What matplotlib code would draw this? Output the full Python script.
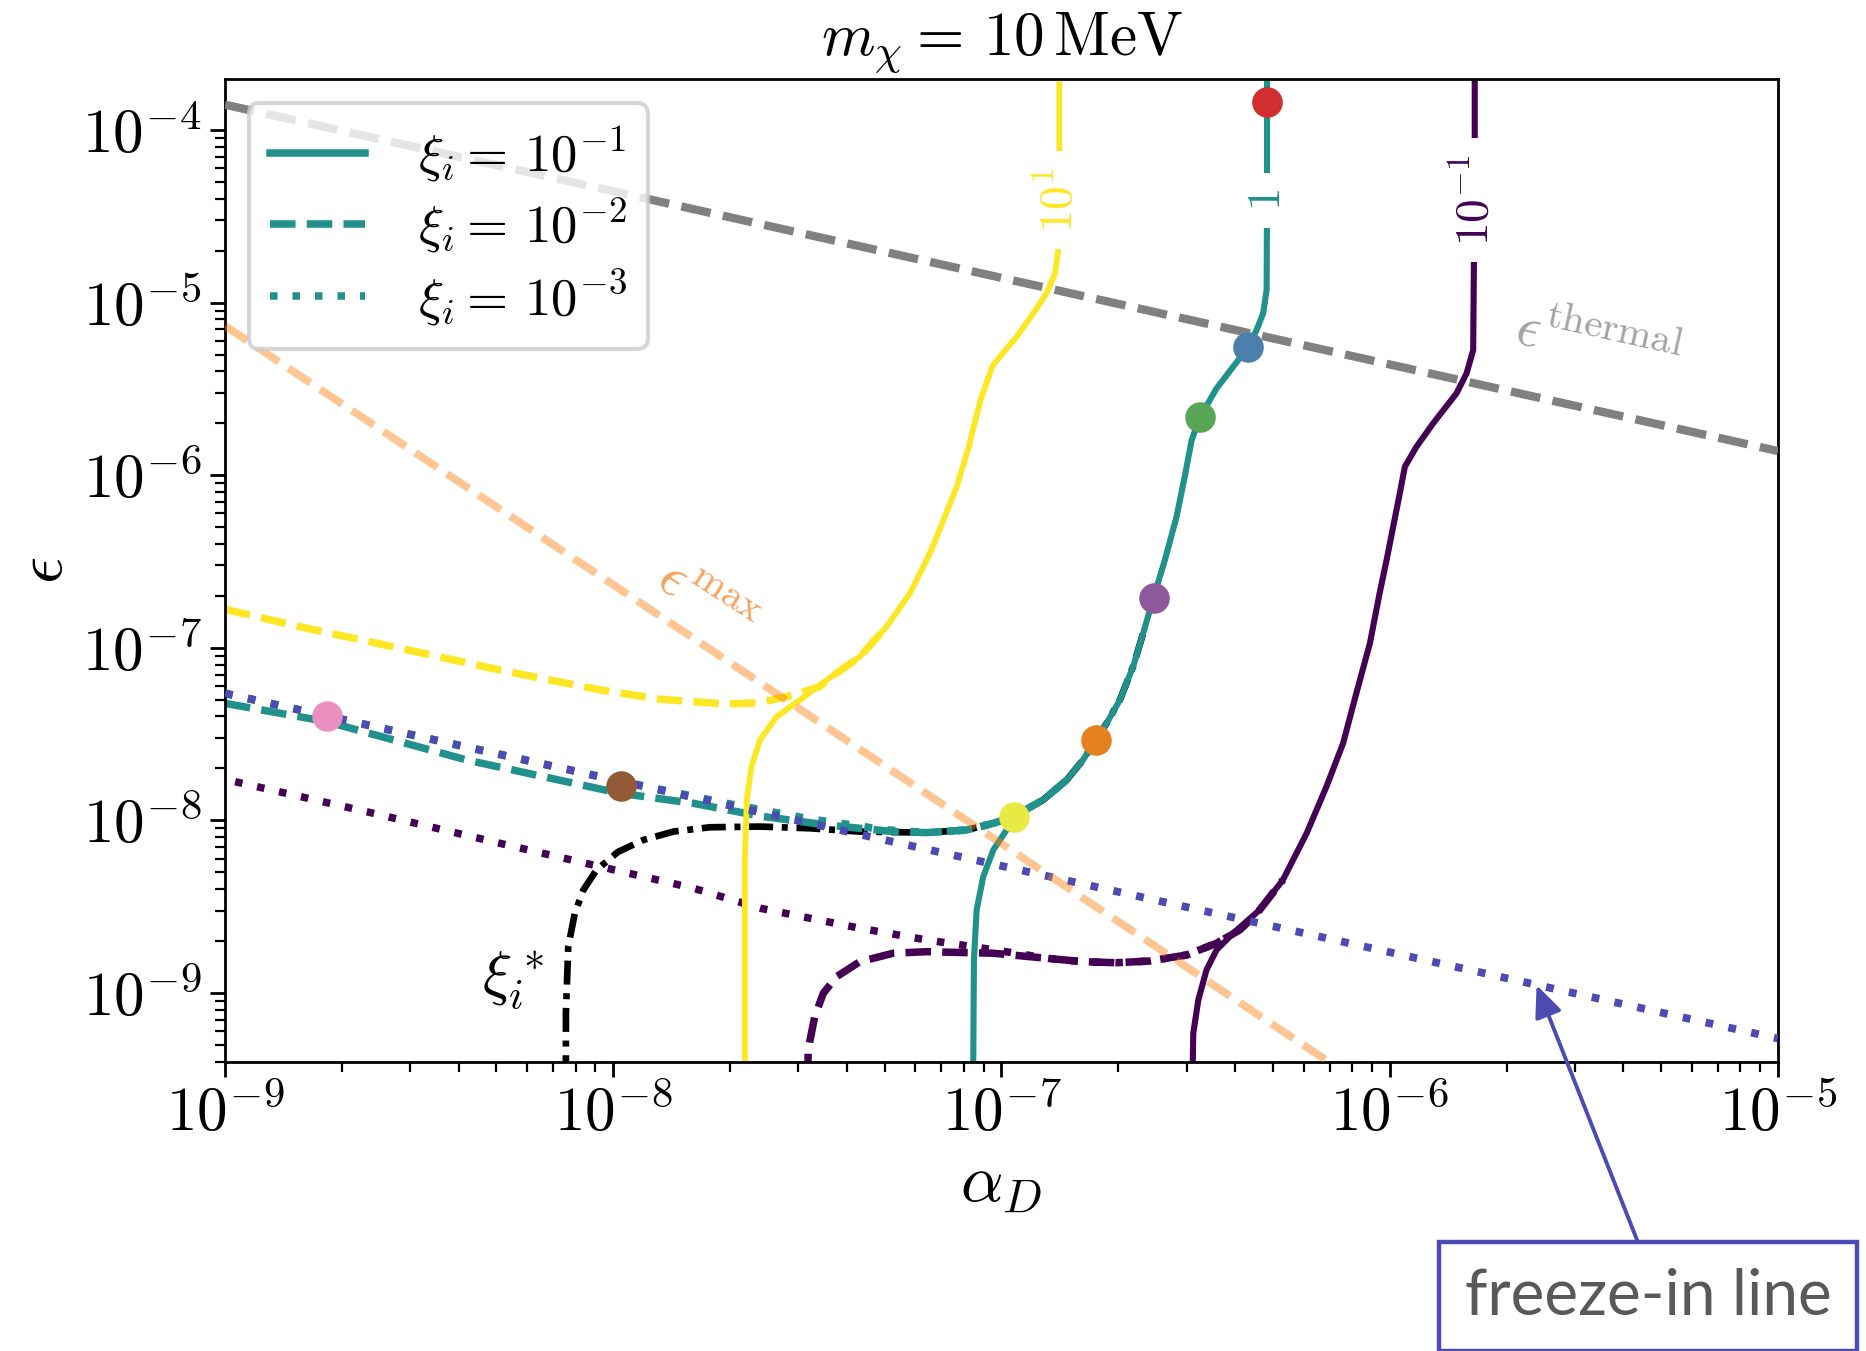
import numpy as np
import matplotlib
matplotlib.use('Agg')
import matplotlib.pyplot as plt
from matplotlib import ticker
from matplotlib.lines import Line2D

plt.rcParams['mathtext.fontset'] = 'cm'

# all values below are log10(alpha_D) / log10(epsilon)

# contour value 10 (yellow)
yel_solid_la = [-7.661, -7.661, -7.661, -7.656, -7.644, -7.622, -7.579, -7.519, -7.450, -7.365,
                -7.296, -7.236, -7.193, -7.177, -7.146, -7.115, -7.085, -7.054, -7.023, -7.004,
                -6.961, -6.918, -6.884, -6.862, -6.854, -6.851, -6.851]
yel_solid_le = [-9.5, -8.809, -8.229, -7.882, -7.689, -7.534, -7.399, -7.302, -7.187, -7.052,
                -6.878, -6.684, -6.491, -6.414, -6.240, -6.065, -5.841, -5.564, -5.367, -5.313,
                -5.198, -5.062, -4.946, -4.830, -4.695, -4.116, -3.6]
yel_dash_la = [-9.0, -8.807, -8.549, -8.292, -8.034, -7.880, -7.708, -7.622, -7.536, -7.468,
               -7.450, -7.365, -7.296]
yel_dash_le = [-6.777, -6.878, -7.003, -7.129, -7.244, -7.298, -7.326, -7.318, -7.273, -7.225,
               -7.187, -7.052, -6.878]

# contour value 1 (teal)
teal_solid_la = [-7.073, -7.071, -7.064, -7.047, -7.021, -6.987, -6.970, -6.893, -6.832, -6.790,
                 -6.757, -6.729, -6.695, -6.661, -6.635, -6.609, -6.579, -6.549, -6.528, -6.510,
                 -6.489, -6.446, -6.403, -6.365, -6.343, -6.326, -6.317, -6.316, -6.316]
teal_solid_le = [-9.5, -8.809, -8.519, -8.326, -8.171, -8.056, -7.979, -7.882, -7.766, -7.650,
                 -7.534, -7.437, -7.302, -7.109, -6.916, -6.713, -6.491, -6.240, -6.009, -5.796,
                 -5.665, -5.497, -5.371, -5.259, -5.159, -5.062, -4.927, -4.4, -3.6]
teal_dash_la = [-9.0, -8.738, -8.378, -7.983, -7.794, -7.622, -7.450, -7.279, -7.193, -7.090,
                -7.021, -6.970, -6.893, -6.832]
teal_dash_le = [-7.322, -7.428, -7.650, -7.843, -7.901, -7.975, -8.027, -8.065, -8.071, -8.056,
                -8.017, -7.979, -7.882, -7.766]
teal_dot_la = [-9.0, -8.5, -8.0, -7.7, -7.5, -7.3, -7.193, -7.090, -7.021, -6.970]
teal_dot_le = [-7.264, -7.514, -7.764, -7.905, -7.99, -8.055, -8.071, -8.056, -8.017, -7.979]

# contour value 0.1 (dark purple)
pur_solid_la = [-6.508, -6.506, -6.493, -6.472, -6.446, -6.403, -6.335, -6.275, -6.214, -6.163,
                -6.120, -6.086, -6.051, -6.026, -6.008, -5.991, -5.974, -5.961, -5.931, -5.888,
                -5.828, -5.802, -5.785, -5.783, -5.781, -5.781]
pur_solid_le = [-9.5, -9.234, -9.041, -8.867, -8.751, -8.654, -8.519, -8.345, -8.075, -7.805,
                -7.553, -7.264, -6.974, -6.684, -6.491, -6.298, -6.105, -5.951, -5.835, -5.699,
                -5.526, -5.410, -5.275, -4.753, -4.039, -3.6]
pur_dash_la = [-7.499, -7.498, -7.493, -7.481, -7.459, -7.425, -7.365, -7.279, -7.193, -7.021,
               -6.875, -6.790, -6.704, -6.618, -6.523, -6.446, -6.386, -6.335, -6.275]
pur_dash_le = [-9.5, -9.348, -9.272, -9.137, -9.002, -8.906, -8.819, -8.770, -8.761, -8.770,
               -8.801, -8.819, -8.825, -8.815, -8.780, -8.712, -8.635, -8.519, -8.345]
pur_dot_la = [-8.974, -8.635, -8.292, -8.034, -7.794, -7.622, -7.365, -7.193, -7.064, -6.935,
              -6.875, -6.790, -6.704, -6.618, -6.523, -6.446, -6.386, -6.335]
pur_dot_le = [-7.776, -7.950, -8.133, -8.268, -8.393, -8.509, -8.625, -8.693, -8.735, -8.780,
              -8.801, -8.819, -8.825, -8.815, -8.780, -8.712, -8.635, -8.519]

# xi_i^* line
star_la = [-8.122, -8.122, -8.116, -8.099, -8.077, -8.043, -7.988, -7.923, -7.845, -7.751,
           -7.622, -7.493, -7.365, -7.193, -7.090, -7.021, -6.970, -6.893, -6.832, -6.790,
           -6.757, -6.729, -6.695, -6.661, -6.635]
star_le = [-9.5, -9.118, -8.732, -8.538, -8.403, -8.287, -8.183, -8.114, -8.065, -8.040,
           -8.036, -8.046, -8.065, -8.071, -8.056, -8.017, -7.979, -7.882, -7.766, -7.650,
           -7.534, -7.437, -7.302, -7.109, -6.916]

# straight reference lines (end points)
thermal_la = [-9.0, -5.0]
thermal_le = [-3.853, -5.86]
eps_max_la = [-9.0, -5.0]
eps_max_le = [-5.135, -11.135]
freeze_la = [-9.0, -5.0]
freeze_le = [-7.264, -9.264]

# benchmark points
pts_la = [-6.316, -6.365, -6.489, -6.608, -6.757, -6.968, -7.980, -8.738]
pts_le = [-3.836, -5.259, -5.665, -6.710, -7.534, -7.979, -7.801, -7.395]
pts_colors = ['#d12e2f', '#4a7fae', '#59a556', '#8f599e', '#e67f1f', '#e8e943', '#935a37', '#ea8fc0']

contour_labels = [r'$10^{1}$', r'$1$', r'$10^{-1}$']
label_la = [-6.851, -6.316, -5.781]
label_le = [-4.406, -4.406, -4.406]

legend_labels = [r'$\xi_i = \,10^{-1}$', r'$\xi_i = \,10^{-2}$', r'$\xi_i = \,10^{-3}$']

c_yel = '#fde725'
c_teal = '#21918c'
c_pur = '#440154'
c_fi = '#4b4bb3'
dotted = (0, (1, 2.0))
dashed = (0, (3.4, 1.5))


def p(a):
    return 10 ** np.array(a)


fig = plt.figure(figsize=(9.33, 6.755), dpi=200)
ax = fig.add_axes([0.1206, 0.2142, 0.8322, 0.7271])

# reference lines
ax.plot(p(thermal_la), p(thermal_le), color='gray', lw=3.0, ls=(0, (3.6, 1.5)), zorder=3)
ax.plot(p(eps_max_la), p(eps_max_le), color='#ff7f0e', alpha=0.45, lw=2.8, ls=dashed, zorder=4)
ax.plot(p(freeze_la), p(freeze_le), color=c_fi, lw=2.8, ls=dotted, zorder=2.6)

# contours
ax.plot(p(star_la), p(star_le), color='k', lw=2.4, ls=(0, (3.6, 1.3, 0.9, 1.3)), zorder=2.2)
ax.plot(p(teal_dash_la), p(teal_dash_le), color=c_teal, lw=2.7, ls=dashed, zorder=2.3)
ax.plot(p(teal_dot_la), p(teal_dot_le), color=c_teal, lw=2.8, ls=dotted, zorder=2.5)
ax.plot(p(teal_solid_la), p(teal_solid_le), color=c_teal, lw=2.2, zorder=2.4)
ax.plot(p(yel_dash_la), p(yel_dash_le), color=c_yel, lw=2.7, ls=dashed, zorder=2.3)
ax.plot(p(yel_solid_la), p(yel_solid_le), color=c_yel, lw=2.1, zorder=2.4)
ax.plot(p(pur_dot_la), p(pur_dot_le), color=c_pur, lw=2.7, ls=dotted, zorder=2.3)
ax.plot(p(pur_dash_la), p(pur_dash_le), color=c_pur, lw=2.7, ls=dashed, zorder=2.3)
ax.plot(p(pur_solid_la), p(pur_solid_le), color=c_pur, lw=2.2, zorder=2.4)

for lab, la, le, c in zip(contour_labels, label_la, label_le, [c_yel, c_teal, c_pur]):
    ax.text(10 ** la, 10 ** le, lab, color=c, fontsize=17, rotation=90, ha='center', va='center',
            bbox=dict(boxstyle='square,pad=0.35', fc='white', ec='none'), zorder=2.45)

for la, le, c in zip(pts_la, pts_le, pts_colors):
    ax.plot(10 ** la, 10 ** le, 'o', color=c, ms=11, mec='none', zorder=6)

# text labels
ax.text(10 ** -7.761, 10 ** -6.723, r'$\epsilon^{\mathrm{max}}$', color='#f8a35e', fontsize=21,
        rotation=-33, ha='center', va='center', rotation_mode='anchor')
ax.text(10 ** -5.464, 10 ** -5.246, r'$\epsilon^{\mathrm{thermal}}$', color='#a3a3a3', fontsize=21,
        rotation=-12.5, ha='center', va='center', rotation_mode='anchor')
ax.text(10 ** -8.258, 10 ** -8.925, r'$\xi_i^*$', color='k', fontsize=22, ha='center', va='center')

handles = [Line2D([], [], color=c_teal, lw=2.7, ls=s) for s in ['-', dashed, dotted]]
leg = ax.legend(handles, legend_labels, loc='upper left', fontsize=19, framealpha=0.8,
                edgecolor='#cccccc', fancybox=True, labelspacing=0.22, handlelength=1.8,
                handletextpad=1.0, borderaxespad=0.45)
leg.get_frame().set_linewidth(1.5)

ax.set_xscale('log')
ax.set_yscale('log')
ax.set_xlim(1e-9, 1e-5)
ax.set_ylim(4e-10, 10 ** -3.706)

fmt = ticker.FuncFormatter(lambda v, pos: r'$10^{%d}$' % int(round(np.log10(v))))
ax.xaxis.set_major_formatter(fmt)
ax.yaxis.set_major_formatter(fmt)
ax.xaxis.set_minor_formatter(ticker.NullFormatter())
ax.yaxis.set_minor_formatter(ticker.NullFormatter())
ax.yaxis.set_major_locator(ticker.LogLocator(base=10, numticks=20))
ax.yaxis.set_minor_locator(ticker.LogLocator(base=10, subs=np.arange(2, 10), numticks=20))
ax.tick_params(which='major', length=5.5, width=1.0, labelsize=22, pad=3)
ax.tick_params(which='minor', length=3.5, width=0.8)
for s in ax.spines.values():
    s.set_linewidth(1.0)

ax.set_title(r'$m_\chi = \,10\,\mathrm{MeV}$', fontsize=22, pad=9)
ax.set_xlabel(r'$\alpha_D$', fontsize=24, labelpad=2)
ax.set_ylabel(r'$\epsilon$', fontsize=24, labelpad=2)

ax.annotate('freeze-in line', xy=(2.39e-6, 1.11e-9), xycoords='data',
            xytext=(0.8832, 0.0267), textcoords='figure fraction',
            ha='center', va='baseline', fontsize=23, family='Lato', color='#595959',
            bbox=dict(boxstyle='square,pad=0.4', fc='white', ec=c_fi, lw=1.6),
            arrowprops=dict(arrowstyle='-|>,head_length=0.8,head_width=0.35', color=c_fi, lw=1.4,
                            relpos=(0.5, 1.0), shrinkA=0, shrinkB=0, mutation_scale=12))

fig.savefig('out.png', dpi=200)
